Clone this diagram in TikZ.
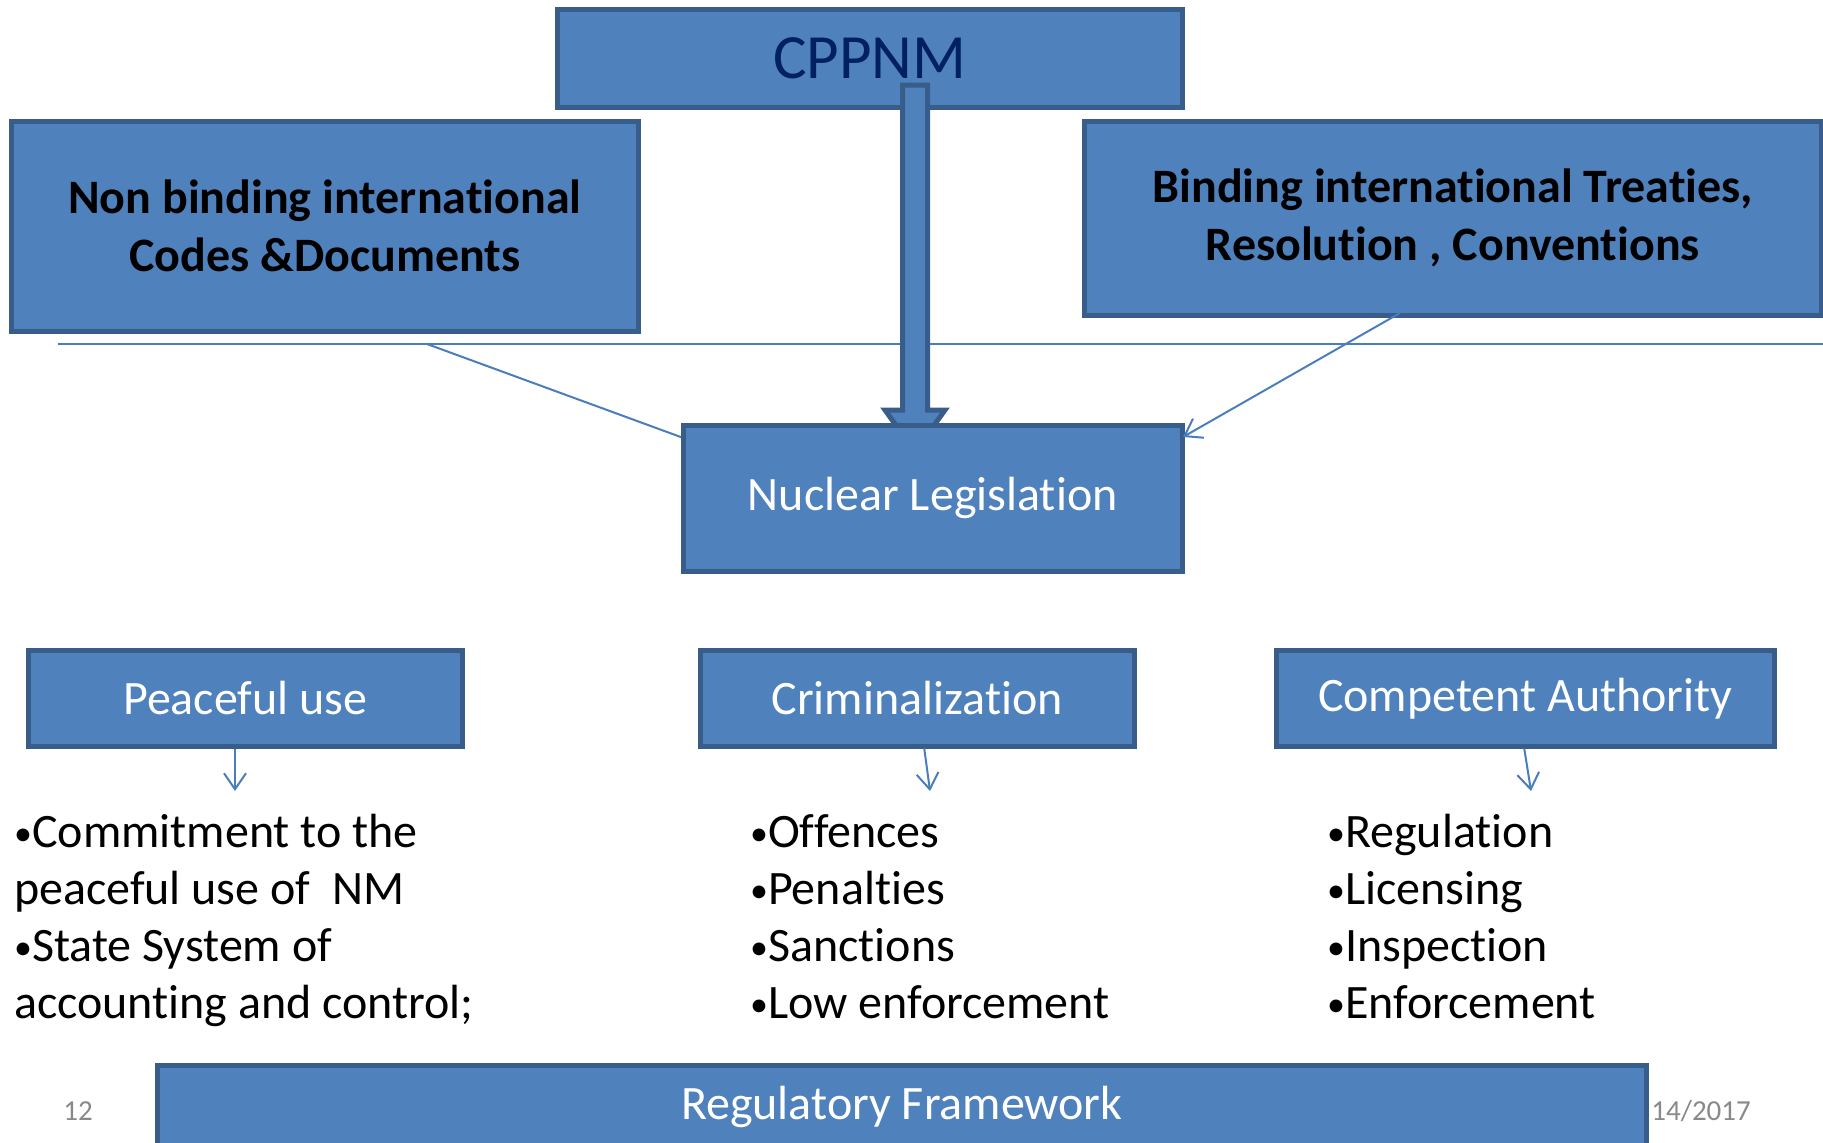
\documentclass[tikz,border=0pt]{standalone}
\usepackage{fontspec}
\setmainfont{Carlito}[Ligatures=CommonOff]
\usetikzlibrary{arrows.meta}
\definecolor{boxfill}{HTML}{4F81BD}
\definecolor{boxline}{HTML}{385D8A}
\definecolor{linkcol}{HTML}{4A7EBB}
\definecolor{navy}{HTML}{002060}
\definecolor{footgray}{HTML}{898989}
\newcommand\bulletmark{\raisebox{2pt}{\fontsize{36}{36}\selectfont •}}
\begin{document}
\begin{tikzpicture}[x=1pt,y=-1pt,
  box/.style={draw=boxline, line width=4.5pt, fill=boxfill, inner sep=0pt,
    anchor=north west, align=center, text=white,
    font=\fontsize{48}{57}\selectfont},
  headbox/.style={box, text=black, font=\fontsize{48}{58}\selectfont\bfseries},
  link/.style={draw=linkcol, line width=2pt},
  tip/.style={-{Straight Barb[length=16pt,width=22pt,line width=2pt]}},
  item/.style={anchor=base west, inner sep=0pt, text=black,
    font=\fontsize{48}{57}\selectfont},
  foot/.style={anchor=base, inner sep=0pt, text=footgray,
    font=\fontsize{29}{34}\selectfont}]
\useasboundingbox (0,0) rectangle (1823,1143);
\clip (0,0) rectangle (1823,1143);

% footer texts (behind the bar)
\node[foot] (pagenum) at (78,1120) {12};
\node[foot, anchor=base east] (date) at (1751,1120) {14/2017};

% top boxes
\node[box, minimum width=625pt, minimum height=98pt, text=navy,
  font=\fontsize{63}{70}\selectfont] (cppnm) at (555,7) {CPPNM};
\node[headbox, minimum width=627pt, minimum height=210pt] (nonbind) at (9,119)
  {Non binding international\\Codes \&Documents};
\node[headbox, minimum width=737pt, minimum height=194pt] (bind) at (1082,119)
  {Binding international Treaties,\\Resolution , Conventions};

% horizontal line and connectors to Nuclear Legislation
\coordinate (hlL) at (58,344);
\coordinate (hlR) at (1823,344);
\draw[link] (hlL) -- (hlR);
\coordinate (nbfoot) at (427,344);
\coordinate (nlleft) at (708,447);
\coordinate (bfoot) at (1400,313);
\coordinate (nlright) at (1183,437);
\draw[link, tip] (nbfoot) -- (nlleft);

% thick block arrow from CPPNM down
\coordinate (arrtop) at (915,85);
\coordinate (arrtip) at (915,452);
\filldraw[fill=boxfill, draw=boxline, line width=5pt, line join=miter]
  ([xshift=-12.5pt]arrtop) -- ([xshift=12.5pt]arrtop)
  -- ([xshift=12.5pt,yshift=42pt]arrtip) -- ([xshift=30pt,yshift=42pt]arrtip)
  -- (arrtip) -- ([xshift=-30pt,yshift=42pt]arrtip)
  -- ([xshift=-12.5pt,yshift=42pt]arrtip) -- cycle;

\node[box, minimum width=499pt, minimum height=146pt] (nl) at (681,423)
  {Nuclear Legislation};
\draw[link, tip] (bfoot) -- (nlright);

% second row
\node[box, minimum width=434pt, minimum height=96pt] (peace) at (26,648) {Peaceful use};
\node[box, minimum width=434pt, minimum height=96pt] (crim) at (698,648) {Criminalization};
\node[box, minimum width=498pt, minimum height=96pt] (comp) at (1274,648) {Competent Authority};

\coordinate (pa) at (235,791);
\coordinate (ca) at (930,791);
\coordinate (aa) at (1531,791);
\draw[link, tip] (peace.south -| pa) -- (pa);
\draw[link, tip] ([xshift=7pt]crim.south) -- (ca);
\draw[link, tip] ([xshift=-1pt]comp.south) -- (aa);

% lists
\node[item] (l1) at (14,847) {\bulletmark Commitment to the};
\node[item] (l2) at (14,904) {peaceful use of\ \ NM};
\node[item] (l3) at (14,961) {\bulletmark State System of};
\node[item] (l4) at (14,1018) {accounting and control;};

\node[item] (m1) at (750,847) {\bulletmark Offences};
\node[item] (m2) at (750,904) {\bulletmark Penalties};
\node[item] (m3) at (750,961) {\bulletmark Sanctions};
\node[item] (m4) at (750,1018) {\bulletmark Low enforcement};

\node[item] (r1) at (1327,847) {\bulletmark Regulation};
\node[item] (r2) at (1327,904) {\bulletmark Licensing};
\node[item] (r3) at (1327,961) {\bulletmark Inspection};
\node[item] (r4) at (1327,1018) {\bulletmark Enforcement};

% bottom bar
\node[box, minimum width=1489pt, minimum height=84pt] (reg) at (155,1063)
  {Regulatory Framework};
\end{tikzpicture}
\end{document}
